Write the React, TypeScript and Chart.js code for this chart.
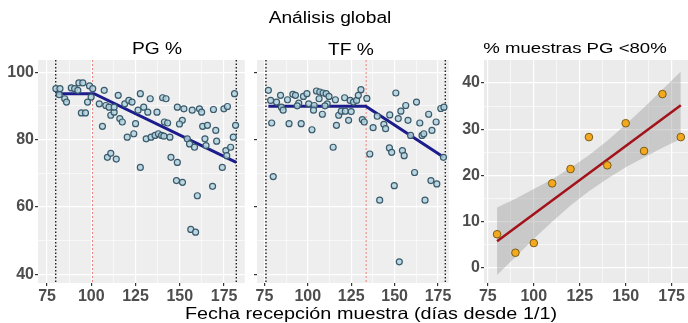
import React, { useEffect, useRef } from 'react';
import { Chart, registerables } from 'chart.js';

Chart.register(...registerables);

// ---------- Data ----------
// Panel 1: PG %
const pgDays = [80.0,82.3,81.9,85.0,86.0,88.7,90.6,93.0,95.2,94.4,96.7,92.4,97.9,99.0,100.8,99.9,104.5,107.3,108.2,106.3,110.0,111.0,112.9,112.9,115.2,116.1,117.5,118.9,121.2,123.0,125.0,120.3,124.0,126.4,127.7,129.6,133.3,131.9,131.0,133.8,136.0,137.9,139.7,137.1,140.3,142.2,141.3,143.1,144.4,109.1,111.0,114.1,127.7,145.0,148.6,148.1,151.5,148.6,152.3,151.4,157.0,161.1,162.3,154.2,155.5,158.3,162.9,165.6,164.2,164.8,169.0,170.3,170.8,174.9,176.9,174.0,176.0,176.5,178.7,180.2,180.9,181.5,168.5,159.9,156.2,158.9,141.0,149.8];
const pgValues = [95.1,95.1,93.3,92.1,91.1,95.3,95.1,96.8,96.8,87.9,87.9,94.6,91.1,95.9,95.1,92.6,90.6,94.6,90.1,83.9,89.6,87.2,88.1,89.6,93.1,86.2,85.2,90.6,91.6,91.1,84.7,80.7,81.7,88.7,93.6,89.6,92.1,88.1,80.2,80.7,81.2,81.7,81.2,88.1,92.4,92.1,85.2,84.9,80.7,74.7,75.9,74.2,71.7,74.7,73.2,67.8,67.3,89.6,89.1,85.7,88.7,89.1,88.1,80.2,78.7,77.7,83.9,84.2,80.2,78.2,88.9,82.7,79.5,89.1,89.8,71.7,76.7,75.2,77.7,80.7,93.6,84.2,66.1,63.3,53.3,52.5,81.0,84.6];
const pgFitDays = [79.9, 101.6, 181.9];
const pgFitValues = [93.6, 93.6, 73.2];
const pgRefDays = [79.9, 181.9];
const pgBreakDay = 100.7;

// Panel 2: TF %
const tfDays = [77.3,78.6,79.2,80.1,82.0,84.3,84.8,85.8,88.3,89.2,91.4,92.9,94.8,96.2,97.5,99.5,100.5,102.4,103.7,103.3,105.0,106.9,108.8,110.6,112.2,106.5,108.4,111.2,114.6,115.9,116.5,117.8,119.3,121.6,121.2,123.5,124.4,126.3,128.1,129.1,130.6,131.4,132.5,135.7,137.6,140.0,143.8,144.8,147.0,148.3,149.8,150.7,152.1,153.6,154.5,155.5,156.4,157.7,159.2,161.5,162.6,164.5,165.8,166.8,169.6,171.5,170.9,173.9,174.3,176.6,178.4,178.1,93.9,125.0,134.0,147.2,141.4,167.5,152.7,109.9];
const tfValues = [94.6,91.6,84.9,69.0,91.1,93.1,89.6,88.7,91.8,84.7,93.4,93.1,90.8,84.7,92.8,93.6,90.6,82.9,90.1,88.7,94.4,94.1,93.8,93.6,92.8,92.1,87.5,90.6,77.7,91.8,84.2,87.2,88.4,88.4,92.4,85.7,91.6,91.1,91.6,93.1,94.8,85.9,85.2,75.7,83.5,86.9,84.5,83.2,77.5,76.2,66.3,93.8,86.2,88.4,76.7,75.2,90.1,85.7,81.2,70.2,91.1,84.9,81.2,81.7,87.5,82.7,67.8,85.2,66.8,89.2,89.6,74.7,90.0,88.3,92.2,87.3,62.0,62.0,43.7,90.0];
const tfFitDays = [77.3, 133.4, 178.3];
const tfFitValues = [89.9, 89.9, 74.7];
const tfRefDays = [75.9, 179.2];
const tfBreakDay = 133.6;

// Panel 3: % muestras PG <80%
const pctDays = [80, 90, 100, 110, 120, 130, 140, 150, 160, 170, 180];
const pctValues = [7.3, 3.3, 5.4, 18.3, 21.4, 28.3, 22.2, 31.3, 25.3, 37.6, 28.3];
const pctFitDays = [80, 180];
const pctFitValues = [5.8, 35.2];
const bandDays = [80, 90, 100, 110, 120, 130, 140, 150, 160, 170, 180];
const bandLow = [-1.5, 2.4, 6.3, 10.0, 13.5, 16.6, 19.3, 21.8, 23.9, 26.0, 27.9];
const bandHigh = [13.1, 15.0, 17.1, 19.2, 21.7, 24.4, 27.5, 31.0, 34.7, 38.6, 42.5];

// Ticks
const dayTicksAll = [75, 87.5, 100, 112.5, 125, 137.5, 150, 162.5, 175];
const dayTicksMajor = [75, 100, 125, 150, 175];
const pctTicksAll = [40, 50, 60, 70, 80, 90, 100];
const pctTicksMajor = [40, 60, 80, 100];
const shareTicksAll = [0, 5, 10, 15, 20, 25, 30, 35, 40];
const shareTicksMajor = [0, 10, 20, 30, 40];

// ---------- Helpers ----------
const FONT = "'Liberation Sans', Arial, sans-serif";

const pts = (xs: number[], ys: number[]) => xs.map((x, i) => ({ x, y: ys[i] }));

function axis(
  horizontal: boolean,
  min: number,
  max: number,
  all: number[],
  major: number[],
  size: number,
  showLabels: boolean
) {
  return {
    type: 'linear',
    min,
    max,
    border: { display: false },
    grid: {
      color: '#ffffff',
      lineWidth: (ctx: any) => (ctx.tick && major.includes(ctx.tick.value) ? 1.2 : 0.6),
      tickColor: (ctx: any) =>
        ctx.tick && major.includes(ctx.tick.value) ? '#333333' : 'rgba(0,0,0,0)',
      tickLength: 3,
      drawTicks: true,
    },
    afterBuildTicks: (s: any) => {
      s.ticks = all.map((v) => ({ value: v }));
    },
    afterFit: (s: any) => {
      if (horizontal) s.height = size;
      else s.width = size;
    },
    ticks: {
      autoSkip: false,
      maxRotation: 0,
      minRotation: 0,
      padding: 1,
      color: '#4d4d4d',
      font: { family: FONT, size: 16, weight: 'bold' },
      callback: (v: any) => (showLabels && major.includes(v) ? String(v) : ''),
    },
  };
}

function panelPlugins(refDays: number[], breakDay: number | null, bg: string) {
  return [
    {
      id: 'panelBg',
      beforeDraw(chart: any) {
        const { ctx, chartArea } = chart;
        ctx.save();
        ctx.fillStyle = bg;
        ctx.fillRect(chartArea.left, chartArea.top, chartArea.width, chartArea.height);
        ctx.restore();
      },
    },
    {
      id: 'refLines',
      beforeDatasetsDraw(chart: any) {
        const { ctx, chartArea, scales } = chart;
        const draw = (v: number, color: string, width: number, dash: number[]) => {
          const x = scales.x.getPixelForValue(v);
          ctx.save();
          ctx.strokeStyle = color;
          ctx.lineWidth = width;
          ctx.setLineDash(dash);
          ctx.beginPath();
          ctx.moveTo(x, chartArea.top);
          ctx.lineTo(x, chartArea.bottom);
          ctx.stroke();
          ctx.restore();
        };
        refDays.forEach((d) => draw(d, '#222222', 1.4, [1.5, 2]));
        if (breakDay !== null) draw(breakDay, '#e9857f', 1, [2, 2]);
      },
    },
  ];
}

const baseOptions = {
  responsive: false,
  animation: false,
  events: [],
  plugins: { legend: { display: false }, tooltip: { enabled: false }, title: { display: false } },
};

function useChart(factory: () => any) {
  const ref = useRef<HTMLCanvasElement | null>(null);
  useEffect(() => {
    if (!ref.current) return;
    const chart = new Chart(ref.current, factory());
    return () => chart.destroy();
  }, []);
  return ref;
}

function breakpointConfig(
  days: number[],
  values: number[],
  fitDays: number[],
  fitValues: number[],
  refDays: number[],
  breakDay: number,
  xmin: number,
  xmax: number,
  yWidth: number,
  showY: boolean,
  padRight: number
) {
  return {
    type: 'scatter',
    data: {
      datasets: [
        {
          data: pts(days, values),
          pointRadius: 3,
          pointBackgroundColor: 'rgba(178,210,222,0.85)',
          pointBorderColor: '#3a5a6b',
          pointBorderWidth: 1.2,
          order: 0,
        },
        {
          type: 'line',
          data: pts(fitDays, fitValues),
          borderColor: '#1c1c8c',
          borderWidth: 3,
          pointRadius: 0,
          fill: false,
          tension: 0,
          order: 1,
        },
      ],
    },
    options: {
      ...baseOptions,
      layout: { padding: { top: 60, right: padRight, left: 0, bottom: 0 } },
      scales: {
        x: axis(true, xmin, xmax, dayTicksAll, dayTicksMajor, 40, true),
        y: axis(false, 37.4, 103.6, pctTicksAll, pctTicksMajor, yWidth, showY),
      },
    },
    plugins: panelPlugins(refDays, breakDay, '#eeeeee'),
  };
}

function PanelPG() {
  const ref = useChart(() =>
    breakpointConfig(pgDays, pgValues, pgFitDays, pgFitValues, pgRefDays, pgBreakDay, 69.9, 186.7, 38, true, 2)
  );
  return <canvas ref={ref} width={250} height={323} style={{ position: 'absolute', left: 0, top: 0, width: 250, height: 323 }} />;
}

function PanelTF() {
  const ref = useChart(() =>
    breakpointConfig(tfDays, tfValues, tfFitDays, tfFitValues, tfRefDays, tfBreakDay, 70.75, 181.2, 7, false, 2)
  );
  return <canvas ref={ref} width={204} height={323} style={{ position: 'absolute', left: 250, top: 0, width: 204, height: 323 }} />;
}

function PanelShare() {
  const ref = useChart(() => ({
    type: 'scatter',
    data: {
      datasets: [
        {
          data: pts(pctDays, pctValues),
          pointRadius: 3.8,
          pointBackgroundColor: '#f2a91f',
          pointBorderColor: '#7d5c12',
          pointBorderWidth: 1,
          order: 0,
        },
        {
          type: 'line',
          data: pts(pctFitDays, pctFitValues),
          borderColor: '#a3121a',
          borderWidth: 2.5,
          pointRadius: 0,
          fill: false,
          order: 1,
        },
        {
          type: 'line',
          data: pts(bandDays, bandLow),
          borderWidth: 0,
          borderColor: 'rgba(0,0,0,0)',
          pointRadius: 0,
          fill: false,
          order: 2,
        },
        {
          type: 'line',
          data: pts(bandDays, bandHigh),
          borderWidth: 0,
          borderColor: 'rgba(0,0,0,0)',
          backgroundColor: 'rgba(150,150,150,0.4)',
          pointRadius: 0,
          fill: '-1',
          order: 2,
        },
      ],
    },
    options: {
      ...baseOptions,
      layout: { padding: { top: 60, right: 0, left: 0, bottom: 0 } },
      scales: {
        x: axis(true, 72.9, 185, dayTicksAll, dayTicksMajor, 40, true),
        y: axis(false, -3.24, 44.97, shareTicksAll, shareTicksMajor, 34, true),
      },
    },
    plugins: panelPlugins([], null, '#ebebeb'),
  }));
  return <canvas ref={ref} width={245} height={323} style={{ position: 'absolute', left: 450, top: 0, width: 245, height: 323 }} />;
}

function Label({ x, y, size, children }: { x: number; y: number; size: number; children: any }) {
  return (
    <div
      style={{
        position: 'absolute',
        left: x,
        top: y,
        transform: 'translate(-50%, -50%) scaleX(1.2)',
        fontFamily: FONT,
        fontSize: size,
        lineHeight: 1,
        whiteSpace: 'nowrap',
        color: '#000',
      }}
    >
      {children}
    </div>
  );
}

export default function App() {
  return (
    <div
      style={{
        position: 'absolute',
        left: 0,
        top: 0,
        width: 688,
        height: 323,
        overflow: 'hidden',
        background: '#ffffff',
      }}
    >
      <PanelPG />
      <PanelTF />
      <PanelShare />
      <Label x={330} y={18} size={16}>Análisis global</Label>
      <Label x={157} y={49} size={16}>PG %</Label>
      <Label x={351} y={50} size={16}>TF %</Label>
      <Label x={575} y={48} size={15.5}>% muestras PG &lt;80%</Label>
      <Label x={371} y={313} size={16.5}>Fecha recepción muestra (días desde 1/1)</Label>
    </div>
  );
}
